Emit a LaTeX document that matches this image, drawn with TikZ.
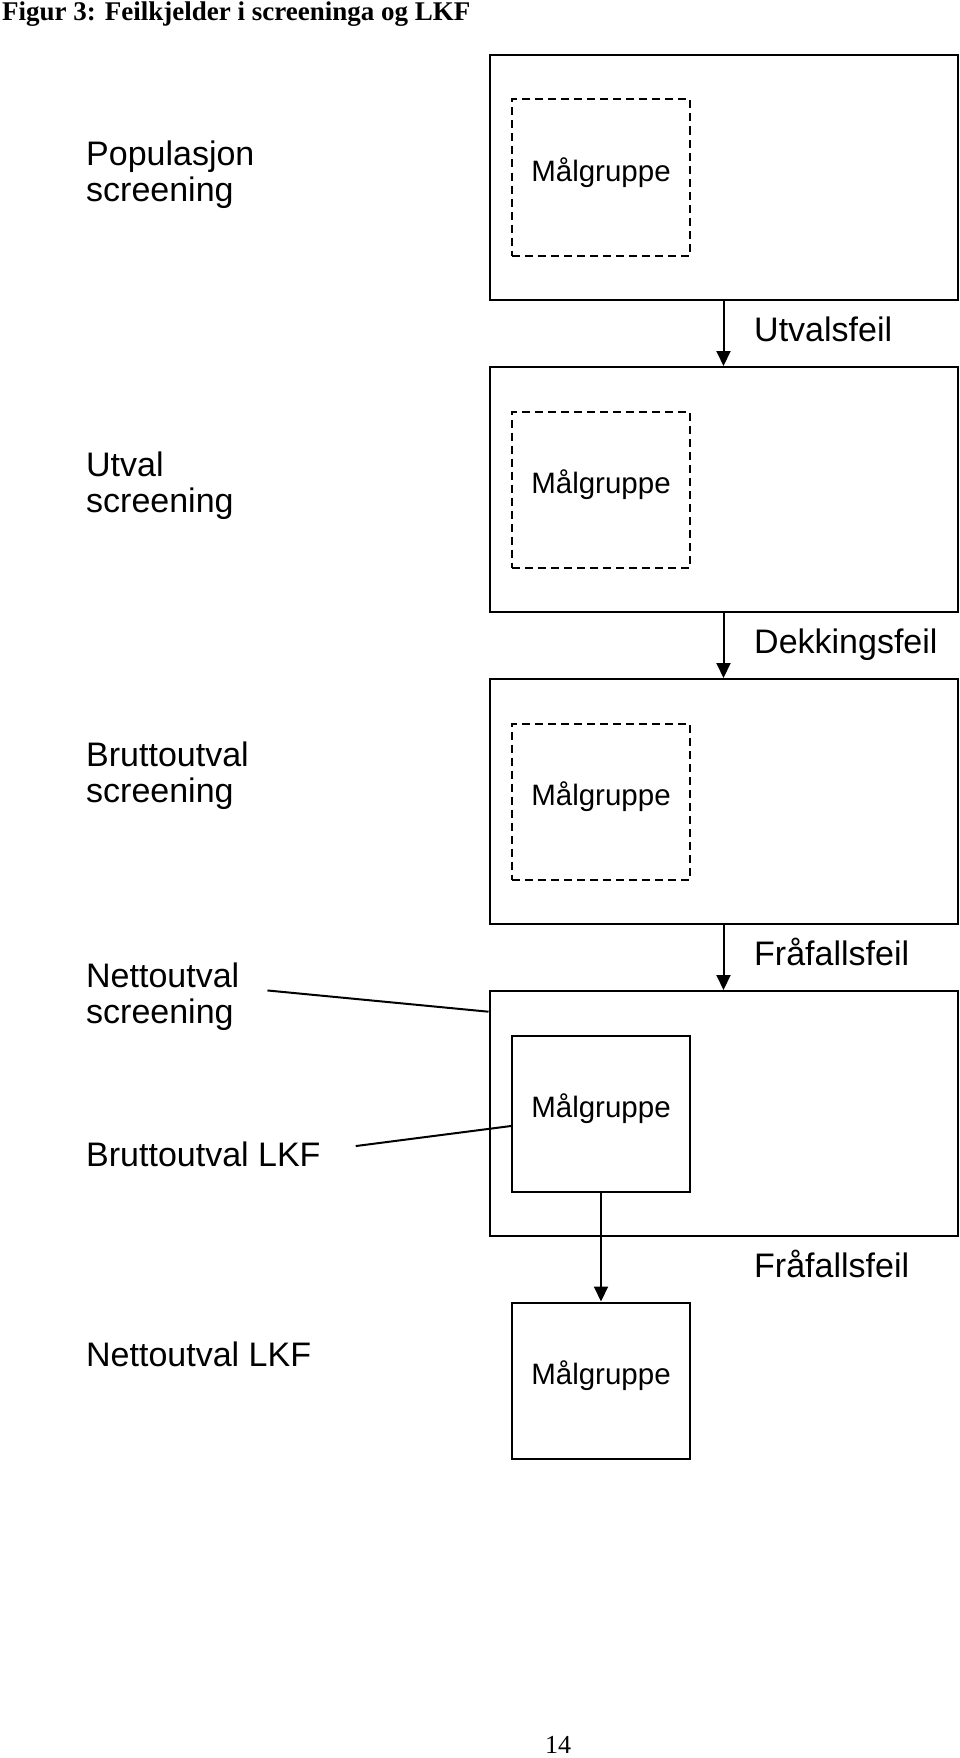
\documentclass[tikz,border=0pt]{standalone}
\usepackage{fontspec}
\setmainfont{Liberation Sans}
\newfontfamily\headfont{Liberation Serif}
\usetikzlibrary{arrows.meta}

\begin{document}
\begin{tikzpicture}
    [ x=1pt, y=-1pt,
      frame/.style={draw, line width=2pt, minimum width=468pt, minimum height=245pt, inner sep=0pt},
      maalbox/.style={draw, line width=2pt, minimum width=178pt, minimum height=156pt, inner sep=0pt,
                      font={\fontsize{29.5}{29.5}\selectfont}, text height=14pt, text depth=6.6pt},
      maalboxdashed/.style={maalbox, dash pattern=on 8pt off 5pt},
      level/.style={anchor=base west, align=left, inner sep=0pt, font={\fontsize{34}{36.5}\selectfont}},
      fault/.style={anchor=base west, inner sep=0pt, font={\fontsize{34}{36.5}\selectfont}},
      flow/.style={line width=2pt, -{Triangle[length=15pt, width=14pt]}},
      pointer/.style={line width=2pt}
    ]
    \useasboundingbox (0, 0) rectangle (960, 1758);

    % Heading and page number
    \node[anchor=base west, inner sep=0pt, font={\headfont\bfseries\fontsize{27}{27}\selectfont}]
        (title) at (2, 20.7) {Figur 3: Feilkjelder i screeninga og LKF};
    \node[anchor=base, inner sep=0pt, font={\headfont\fontsize{26}{26}\selectfont}]
        (pageno) at (558, 1753) {14};

    % Frames
    \foreach \name/\ypos in {pop/177.5, utval/489.5, brutto/801.5, netto/1113.5} {
        \node[frame] (\name) at (723.5, \ypos) {};
    }

    % Target groups
    \foreach \name/\ypos in {pop/177.5, utval/489.5, brutto/801.5} {
        \node[maalboxdashed] (\name grp) at (601, \ypos) {Målgruppe};
    }
    \node[maalbox] (nettogrp) at (601, 1113.5) {Målgruppe};
    \node[maalbox] (lkfgrp) at (601, 1380.5) {Målgruppe};

    % Flows
    \foreach \a/\b in {pop/utval, utval/brutto, brutto/netto} {
        \draw[flow] (\a.south) -- (\b.north);
    }
    \draw[flow] (nettogrp.south) -- (lkfgrp.north);

    % Error sources
    \node[fault] (utvalsfeil) at (754, 341.7) {Utvalsfeil};
    \node[fault] (dekkfeil) at (754, 653) {Dekkingsfeil};
    \node[fault] (fraafall) at (754, 965) {Fråfallsfeil};
    \node[fault] (fraafalllkf) at (754, 1277) {Fråfallsfeil};

    % Levels (base is the last line)
    \node[level] (poplbl) at (86, 201.5) {Populasjon\\screening};
    \node[level] (utvallbl) at (86, 512.5) {Utval\\screening};
    \node[level] (bruttolbl) at (86, 802.5) {Bruttoutval\\screening};
    \node[level] (nettolbl) at (86, 1023.5) {Nettoutval\\screening};
    \node[level] (bruttolkflbl) at (86, 1166) {Bruttoutval LKF};
    \node[level] (nettolkflbl) at (86, 1366) {Nettoutval LKF};

    \draw[pointer] ([xshift=28pt, yshift=6pt]nettolbl.east) -- ([yshift=-21.7pt]netto.north west);
    \draw[pointer] ([xshift=35pt, yshift=7.8pt]bruttolkflbl.east) -- ([yshift=-12.5pt]nettogrp.west);

\end{tikzpicture}
\end{document}
